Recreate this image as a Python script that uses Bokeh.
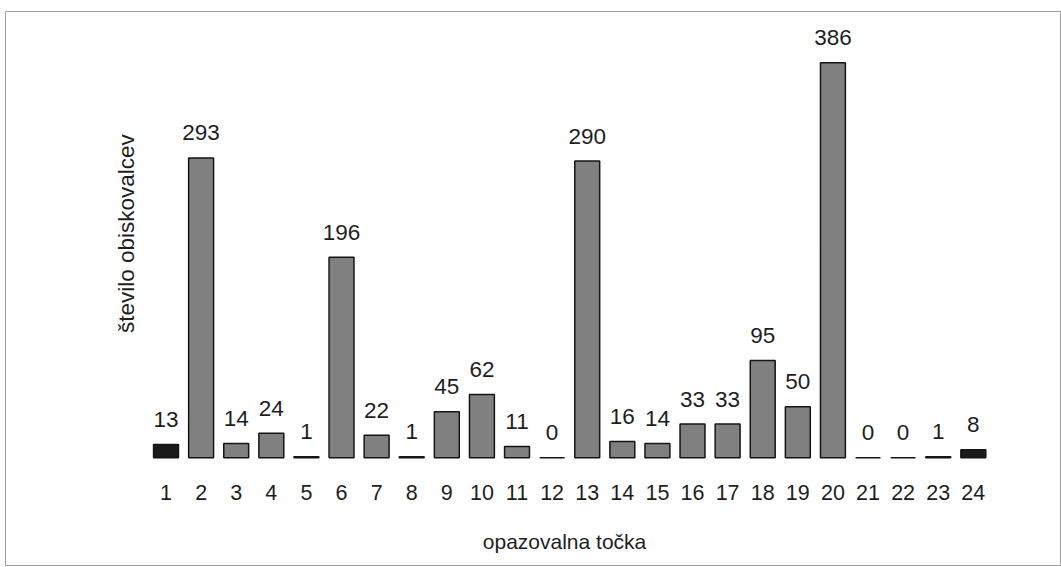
from bokeh.plotting import figure
from bokeh.models import ColumnDataSource, Range1d, Label, FixedTicker
from bokeh.core.properties import value
from bokeh.embed import file_html
from bokeh.resources import INLINE

# ---- data ----
points = list(range(1, 25))
visitors = [13, 293, 14, 24, 1, 196, 22, 1, 45, 62, 11, 0,
            290, 16, 14, 33, 33, 95, 50, 386, 0, 0, 1, 8]
tick_labels = [str(v) for v in points]
dark_points = [1, 24]
x_title = "opazovalna točka"
y_title = "število obiskovalcev"

FONT = "'Liberation Sans', Arial, sans-serif"
TEXT = "#1e1e1e"

fills = ["#1a1a1a" if pt in dark_points else "#808080" for pt in points]
src = ColumnDataSource(dict(x=points, top=visitors, fill=fills,
                            label=[str(v) for v in visitors]))

p = figure(width=1061, height=567, output_backend="svg", toolbar_location=None,
           x_range=Range1d(-3.573, 26.512), y_range=Range1d(-105.2, 436.1),
           min_border_left=5, min_border_top=11, min_border_right=0,
           min_border_bottom=2)
p.background_fill_color = "white"
p.border_fill_color = "white"
p.outline_line_color = "#a0a0a0"
p.outline_line_width = 1
p.grid.visible = False
p.yaxis.visible = False

p.vbar(x="x", top="top", bottom=0, width=0.71, source=src,
       fill_color="fill", line_color="#151515", line_width=1.5)

p.text(x="x", y="top", text="label", source=src, y_offset=-25,
       text_align="center", text_baseline="alphabetic",
       text_font=value(FONT), text_font_size="22.5px", text_color=TEXT)

xa = p.xaxis[0]
xa.fixed_location = 0
xa.ticker = FixedTicker(ticks=points)
xa.major_label_overrides = {pt: lab for pt, lab in zip(points, tick_labels)}
xa.axis_line_color = None
xa.major_tick_line_color = None
xa.minor_tick_line_color = None
xa.major_tick_out = 0
xa.major_label_standoff = 27
xa.major_label_text_font = FONT
xa.major_label_text_font_size = "21.5px"
xa.major_label_text_color = TEXT

p.add_layout(Label(x=12.353, y=-81.8, text=x_title,
                   text_align="center", text_baseline="middle",
                   text_font=FONT, text_font_size="21px", text_color=TEXT))

p.add_layout(Label(x=-0.125, y=219, text=y_title, angle=1.5708,
                   text_align="center", text_baseline="middle",
                   text_font=FONT, text_font_size="22.5px", text_color=TEXT))

open("out.html", "w").write(file_html(p, INLINE))
